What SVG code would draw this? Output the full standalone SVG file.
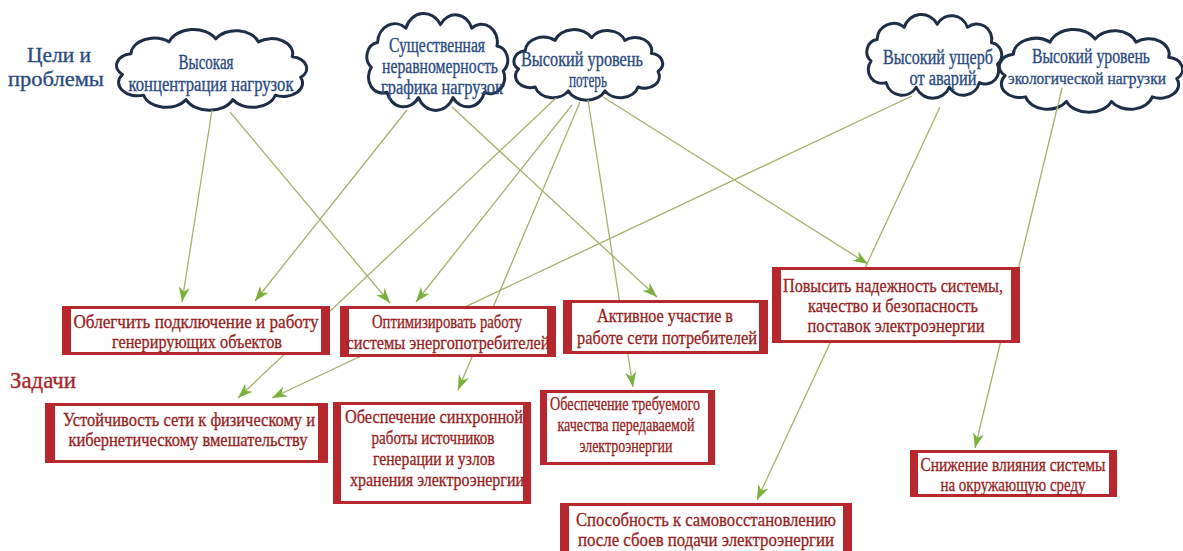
<svg xmlns="http://www.w3.org/2000/svg" width="1183" height="551" viewBox="0 0 1183 551">
<style>
.bg{fill:#ffffff}
.cloud{fill:#ffffff;stroke:#1f2e47;stroke-width:3;stroke-linejoin:round}
.ct{font-family:'Liberation Serif','Times New Roman',serif;font-size:20px;fill:#2c4b80;stroke:#2c4b80;stroke-width:0.35;text-anchor:middle}
.title{font-family:'Liberation Serif','Times New Roman',serif;font-size:21px;fill:#2c4b80;stroke:#2c4b80;stroke-width:0.35}
.title2{font-family:'Liberation Serif','Times New Roman',serif;font-size:23px;fill:#a6262a;stroke:#a6262a;stroke-width:0.35}
.frame{fill:#b6282d}
.inner{fill:#ffffff}
.bt{font-family:'Liberation Serif','Times New Roman',serif;font-size:19px;fill:#981d21;stroke:#981d21;stroke-width:0.3;text-anchor:middle}
.conn{stroke:#a9ae6c;stroke-width:1.3;fill:none;marker-end:url(#arr)}
</style>
<defs>
<marker id="arr" markerUnits="userSpaceOnUse" markerWidth="16" markerHeight="12" refX="15" refY="6" orient="auto">
<path d="M0,0.5 L15,6 L0,11.5 L4.5,6 Z" fill="#7bb13a"/>
</marker>
</defs>
<rect class="bg" x="0" y="0" width="1183" height="551"/>

<text class="title" x="27" y="62" textLength="64" lengthAdjust="spacingAndGlyphs">Цели и</text>
<text class="title" x="8" y="86" textLength="96" lengthAdjust="spacingAndGlyphs">проблемы</text>
<text class="title2" x="10" y="388" textLength="66" lengthAdjust="spacingAndGlyphs">Задачи</text>

<g id="cloud-concentration">
<path class="cloud" vector-effect="non-scaling-stroke" transform="translate(101.3,30) scale(2.121,1.481)" d="M10,30 A8,8 0 0 1 14,16 A11,11 0 0 1 32,8 A12,12 0 0 1 54,6 A11,11 0 0 1 74,8 A10,10 0 0 1 90,18 A8,8 0 0 1 94,32 A9,9 0 0 1 82,44 A11,11 0 0 1 62,47 A12,12 0 0 1 40,47 A11,11 0 0 1 20,44 A9,9 0 0 1 10,30 Z"/>
<text class="ct" x="206" y="69" textLength="55" lengthAdjust="spacingAndGlyphs">Высокая</text>
<text class="ct" x="211" y="91" textLength="165" lengthAdjust="spacingAndGlyphs">концентрация нагрузок</text>
</g>
<g id="cloud-unevenness">
<path class="cloud" vector-effect="non-scaling-stroke" transform="translate(355.6,14) scale(1.571,1.778)" d="M10,30 A8,8 0 0 1 14,16 A11,11 0 0 1 32,8 A12,12 0 0 1 54,6 A11,11 0 0 1 74,8 A10,10 0 0 1 90,18 A8,8 0 0 1 94,32 A9,9 0 0 1 82,44 A11,11 0 0 1 62,47 A12,12 0 0 1 40,47 A11,11 0 0 1 20,44 A9,9 0 0 1 10,30 Z"/>
<text class="ct" x="437" y="52" textLength="96" lengthAdjust="spacingAndGlyphs">Существенная</text>
<text class="ct" x="440" y="73" textLength="116" lengthAdjust="spacingAndGlyphs">неравномерность</text>
<text class="ct" x="442" y="94" textLength="122" lengthAdjust="spacingAndGlyphs">графика нагрузок</text>
</g>
<g id="cloud-losses">
<path class="cloud" vector-effect="non-scaling-stroke" transform="translate(502,30) scale(1.659,1.296)" d="M10,30 A8,8 0 0 1 14,16 A11,11 0 0 1 32,8 A12,12 0 0 1 54,6 A11,11 0 0 1 74,8 A10,10 0 0 1 90,18 A8,8 0 0 1 94,32 A9,9 0 0 1 82,44 A11,11 0 0 1 62,47 A12,12 0 0 1 40,47 A11,11 0 0 1 20,44 A9,9 0 0 1 10,30 Z"/>
<text class="ct" x="582" y="66" textLength="122" lengthAdjust="spacingAndGlyphs">Высокий уровень</text>
<text class="ct" x="588" y="87" textLength="38" lengthAdjust="spacingAndGlyphs">потерь</text>
</g>
<g id="cloud-damage">
<path class="cloud" vector-effect="non-scaling-stroke" transform="translate(856,15) scale(1.505,1.537)" d="M10,30 A8,8 0 0 1 14,16 A11,11 0 0 1 32,8 A12,12 0 0 1 54,6 A11,11 0 0 1 74,8 A10,10 0 0 1 90,18 A8,8 0 0 1 94,32 A9,9 0 0 1 82,44 A11,11 0 0 1 62,47 A12,12 0 0 1 40,47 A11,11 0 0 1 20,44 A9,9 0 0 1 10,30 Z"/>
<text class="ct" x="938" y="64" textLength="110" lengthAdjust="spacingAndGlyphs">Высокий ущерб</text>
<text class="ct" x="943" y="85" textLength="67" lengthAdjust="spacingAndGlyphs">от аварий</text>
</g>
<g id="cloud-ecology">
<path class="cloud" vector-effect="non-scaling-stroke" transform="translate(984.7,30) scale(2.044,1.519)" d="M10,30 A8,8 0 0 1 14,16 A11,11 0 0 1 32,8 A12,12 0 0 1 54,6 A11,11 0 0 1 74,8 A10,10 0 0 1 90,18 A8,8 0 0 1 94,32 A9,9 0 0 1 82,44 A11,11 0 0 1 62,47 A12,12 0 0 1 40,47 A11,11 0 0 1 20,44 A9,9 0 0 1 10,30 Z"/>
<text class="ct" x="1091" y="63" textLength="118" lengthAdjust="spacingAndGlyphs">Высокий уровень</text>
<text class="ct" style="font-size:17px" x="1087" y="84" textLength="158" lengthAdjust="spacingAndGlyphs">экологической нагрузки</text>
</g>

<g id="connectors">
<line class="conn" x1="212" y1="110" x2="182" y2="302"/>
<line class="conn" x1="230" y1="112" x2="390" y2="303"/>
<line class="conn" x1="407" y1="110" x2="255" y2="301"/>
<line class="conn" x1="452" y1="107" x2="657" y2="297"/>
<line class="conn" x1="556" y1="98" x2="238" y2="398"/>
<line class="conn" x1="572" y1="105" x2="416" y2="302"/>
<line class="conn" x1="580" y1="102" x2="458" y2="390"/>
<line class="conn" x1="588" y1="100" x2="633" y2="387"/>
<line class="conn" x1="603" y1="97" x2="868" y2="264"/>
<line class="conn" x1="912" y1="96" x2="272" y2="398"/>
<line class="conn" x1="940" y1="107" x2="757" y2="500"/>
<line class="conn" x1="1062" y1="88" x2="975" y2="448"/>
</g>

<g id="task-generation">
<rect class="frame" x="62" y="306" width="268" height="49"/>
<rect class="inner" x="71" y="309" width="250" height="43"/>
<text class="bt" x="196" y="328" textLength="245" lengthAdjust="spacingAndGlyphs">Облегчить подключение и работу</text>
<text class="bt" x="197" y="348" textLength="170" lengthAdjust="spacingAndGlyphs">генерирующих объектов</text>
</g>
<g id="task-consumers">
<rect class="frame" x="340" y="306" width="216" height="51"/>
<rect class="inner" x="349" y="309" width="198" height="45"/>
<text class="bt" x="447" y="328" textLength="150" lengthAdjust="spacingAndGlyphs">Оптимизировать работу</text>
<text class="bt" x="448" y="349" textLength="203" lengthAdjust="spacingAndGlyphs">системы энергопотребителей</text>
</g>
<g id="task-participation">
<rect class="frame" x="563" y="300" width="205" height="54"/>
<rect class="inner" x="572" y="303" width="187" height="48"/>
<text class="bt" x="665" y="322" textLength="136" lengthAdjust="spacingAndGlyphs">Активное участие в</text>
<text class="bt" x="667" y="344" textLength="180" lengthAdjust="spacingAndGlyphs">работе сети потребителей</text>
</g>
<g id="task-reliability">
<rect class="frame" x="772" y="267" width="248" height="76"/>
<rect class="inner" x="781" y="270" width="230" height="70"/>
<text class="bt" x="893" y="292" textLength="220" lengthAdjust="spacingAndGlyphs">Повысить надежность системы,</text>
<text class="bt" x="893" y="312" textLength="170" lengthAdjust="spacingAndGlyphs">качество и безопасность</text>
<text class="bt" x="896" y="332" textLength="177" lengthAdjust="spacingAndGlyphs">поставок электроэнергии</text>
</g>
<g id="task-resilience">
<rect class="frame" x="45" y="403" width="283" height="60"/>
<rect class="inner" x="55" y="406" width="263" height="54"/>
<text class="bt" x="189" y="426" textLength="252" lengthAdjust="spacingAndGlyphs">Устойчивость сети к физическому и</text>
<text class="bt" x="188" y="446" textLength="239" lengthAdjust="spacingAndGlyphs">кибернетическому вмешательству</text>
</g>
<g id="task-synchronous">
<rect class="frame" x="333" y="402" width="198" height="102"/>
<rect class="inner" x="341" y="405" width="182" height="96"/>
<text class="bt" x="434" y="423" textLength="178" lengthAdjust="spacingAndGlyphs">Обеспечение синхронной</text>
<text class="bt" x="433" y="444" textLength="123" lengthAdjust="spacingAndGlyphs">работы источников</text>
<text class="bt" x="434" y="465" textLength="122" lengthAdjust="spacingAndGlyphs">генерации и узлов</text>
<text class="bt" x="437" y="486" textLength="174" lengthAdjust="spacingAndGlyphs">хранения электроэнергии</text>
</g>
<g id="task-quality">
<rect class="frame" x="540" y="390" width="175" height="75"/>
<rect class="inner" x="547" y="393" width="161" height="69"/>
<text class="bt" x="625" y="410" textLength="150" lengthAdjust="spacingAndGlyphs">Обеспечение требуемого</text>
<text class="bt" x="626" y="431" textLength="137" lengthAdjust="spacingAndGlyphs">качества передаваемой</text>
<text class="bt" x="626" y="452" textLength="93" lengthAdjust="spacingAndGlyphs">электроэнергии</text>
</g>
<g id="task-selfhealing">
<rect class="frame" x="560" y="503" width="292" height="54"/>
<rect class="inner" x="569" y="506" width="274" height="48"/>
<text class="bt" x="706" y="526" textLength="260" lengthAdjust="spacingAndGlyphs">Способность к самовосстановлению</text>
<text class="bt" x="706" y="546" textLength="256" lengthAdjust="spacingAndGlyphs">после сбоев подачи электроэнергии</text>
</g>
<g id="task-environment">
<rect class="frame" x="910" y="450" width="207" height="47"/>
<rect class="inner" x="918" y="453" width="191" height="41"/>
<text class="bt" x="1013" y="471" textLength="185" lengthAdjust="spacingAndGlyphs">Снижение влияния системы</text>
<text class="bt" x="1013" y="491" textLength="145" lengthAdjust="spacingAndGlyphs">на окружающую среду</text>
</g>
</svg>
